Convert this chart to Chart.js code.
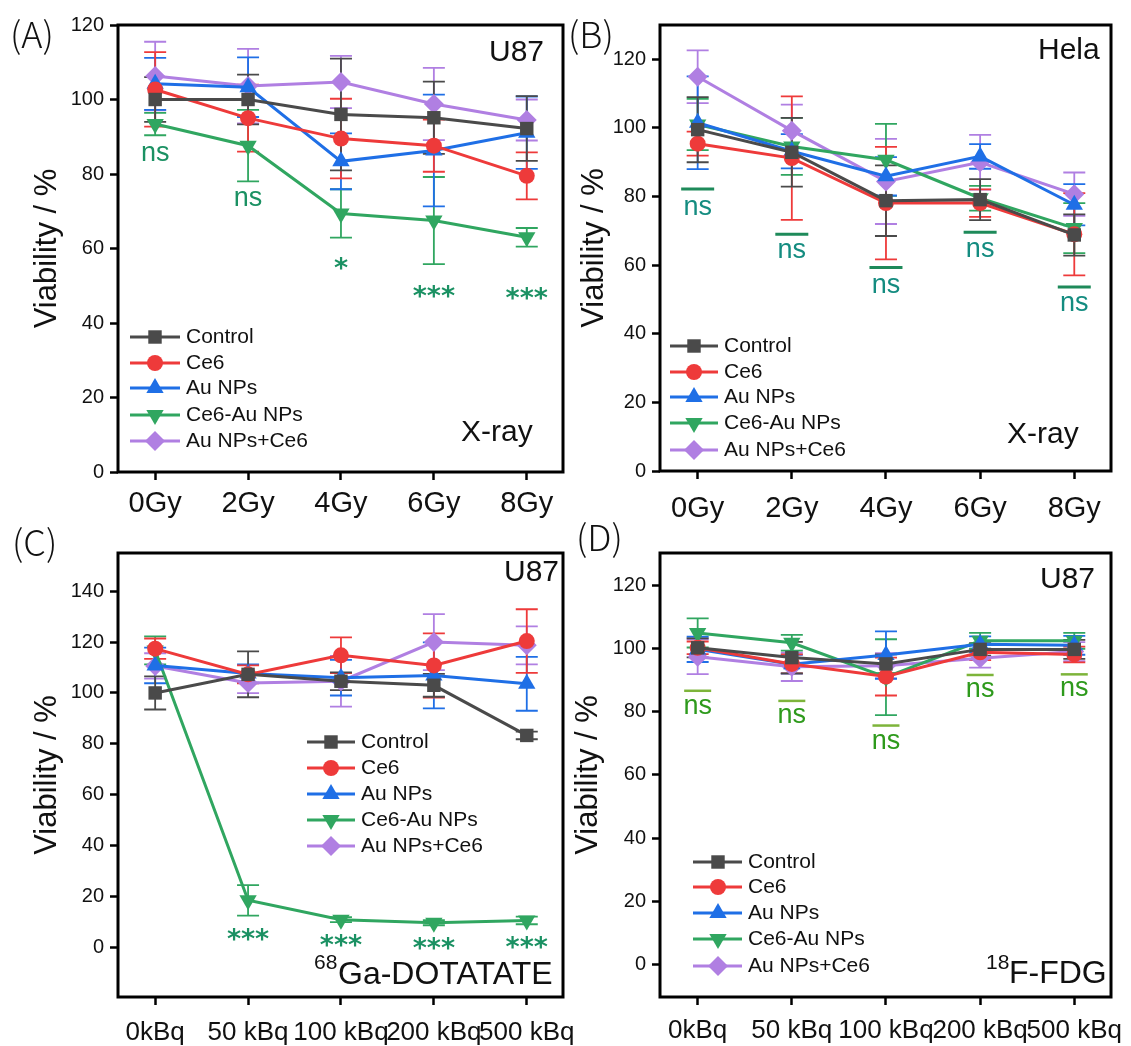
<!DOCTYPE html>
<html>
<head>
<meta charset="utf-8">
<script src="https://cdn.jsdelivr.net/npm/chart.js@4.4.1/dist/chart.umd.min.js"></script>
<style>
html,body{margin:0;padding:0;background:#fff;}
#wrap{position:relative;width:1131px;height:1046px;overflow:hidden;background:#fff;}
#wrap canvas{position:absolute;left:0;top:0;}
</style>
</head>
<body>
<div id="wrap">
<canvas id="cA" width="1131" height="1046"></canvas>
<canvas id="cB" width="1131" height="1046"></canvas>
<canvas id="cC" width="1131" height="1046"></canvas>
<canvas id="cD" width="1131" height="1046"></canvas>
</div>
<script>
// ---------- categories / labels ----------
const seriesNames = ['Control', 'Ce6', 'Au NPs', 'Ce6-Au NPs', 'Au NPs+Ce6'];
const gyLabels = ['0Gy', '2Gy', '4Gy', '6Gy', '8Gy'];
const kbqLabels = ['0kBq', '50 kBq', '100 kBq', '200 kBq', '500 kBq'];
const yTitle = 'Viability / %';

// ---------- Panel A (U87, X-ray) ----------
const aControl = [100, 100, 96.0, 95.1, 92.2];
const aControlErr = [6, 6.7, 15, 9.7, 8.7];
const aCe6 = [102.7, 95, 89.5, 87.6, 79.5];
const aCe6Err = [10, 9, 10.7, 7, 6.3];
const aAu = [104.2, 103.3, 83.4, 86.3, 91.1];
const aAuErr = [7, 8, 7.5, 15, 9.7];
const aCe6Au = [93.4, 87.6, 69.4, 67.5, 63];
const aCe6AuErr = [3, 9.6, 6.5, 11.7, 2.5];
const aMix = [106.3, 103.6, 104.7, 98.8, 94.5];
const aMixErr = [9.2, 10, 7, 9.7, 5.5];
const aSigText = ['ns', 'ns', '*', '***', '***'];
const aSigY = [85.4, 73.3, 56.5, 48.9, 48.4];

// ---------- Panel B (Hela, X-ray) ----------
const bControl = [99.5, 92.9, 78.8, 79.1, 68.8];
const bControlErr = [9.5, 10, 10.3, 6, 6];
const bCe6 = [95.4, 91.2, 78.1, 78.1, 69];
const bCe6Err = [3.5, 18, 16.4, 4, 12];
const bAu = [101.5, 93.2, 85.9, 91.7, 77.6];
const bAuErr = [13.5, 5, 5.6, 3.6, 6];
const bCe6Au = [101, 94.6, 90.7, 79.5, 70.8];
const bCe6AuErr = [7.5, 8.3, 10.5, 3.6, 7.3];
const bMix = [114.9, 99.2, 84.4, 90, 80.7];
const bMixErr = [7.7, 7.6, 12.4, 8, 6.3];
const bSigText = ['ns', 'ns', 'ns', 'ns', 'ns'];
const bSigY = [76.6, 64, 53.9, 64.5, 48.7];
const bSigBarY = [82.2, 69, 59.3, 69.6, 53.6];

// ---------- Panel C (U87, 68Ga-DOTATATE) ----------
const cControl = [100, 107.3, 104.6, 103, 83.3];
const cControlErr = [6.5, 9, 3.5, 4.5, 1.5];
const cCe6 = [117.4, 107.3, 114.8, 110.8, 120.4];
const cCe6Err = [4, 3.5, 7, 12.6, 12.5];
const cAu = [110.8, 107.6, 106, 106.9, 103.6];
const cAuErr = [7, 3.6, 7, 13, 10.6];
const cCe6Au = [116.7, 18.5, 10.9, 9.7, 10.6];
const cCe6AuErr = [5.5, 6, 1, 1, 1.5];
const cMix = [110.6, 103.9, 104.6, 120, 118.7];
const cMixErr = [5, 4, 10, 11, 7.5];
const cSigText = ['', '***', '***', '***', '***'];
const cSigY = [0, 5.8, 3.4, 2.1, 2.5];

// ---------- Panel D (U87, 18F-FDG) ----------
const dControl = [100.2, 97.1, 95.1, 99.7, 99.7];
const dControlErr = [3, 5, 3, 2, 3];
const dCe6 = [100.2, 95.1, 91.1, 98.8, 98.1];
const dCe6Err = [2, 3, 6, 2.5, 2.5];
const dAu = [99.7, 95, 97.9, 101.3, 101];
const dAuErr = [4, 3, 7.5, 2.5, 3];
const dCe6Au = [104.9, 101.8, 90.9, 102.4, 102.4];
const dCe6AuErr = [4.6, 2.5, 12, 2.5, 2.5];
const dMix = [97.4, 94.2, 94.5, 96.9, 99];
const dMixErr = [5.5, 4.5, 4, 3, 3];
const dSigText = ['ns', 'ns', 'ns', 'ns', 'ns'];
const dSigY = [81.6, 78.5, 70.5, 86.9, 87.2];
const dSigBarY = [86.6, 83.4, 75.6, 91.6, 91.8];

// ---------- styles ----------
const COLORS = ['#4a4a4a', '#ee3a3a', '#1f6fe6', '#30a660', '#b07fe2'];
const MARK = [
  {s: 'rect', r: 9.5, rot: 0},
  {s: 'circle', r: 8, rot: 0},
  {s: 'triangle', r: 10, rot: 0},
  {s: 'triangle', r: 10, rot: 180},
  {s: 'rectRot', r: 10, rot: 0}
];
const FONT = "'Liberation Sans', Arial, sans-serif";
const W = 1131, Hh = 1046, XH = 60;

function mkDs(k, vals, errs) {
  return {
    label: seriesNames[k],
    data: vals.map((v, i) => ({x: i, y: v})),
    errors: errs,
    borderColor: COLORS[k], backgroundColor: COLORS[k],
    pointBackgroundColor: COLORS[k], pointBorderColor: COLORS[k],
    pointBorderWidth: 0, pointStyle: MARK[k].s, pointRadius: MARK[k].r,
    pointRotation: MARK[k].rot, borderWidth: 3, tension: 0, fill: false
  };
}

const panelPlugin = {
  id: 'panel',
  beforeDatasetsDraw(chart) {
    const ctx = chart.ctx, ys = chart.scales.y;
    for (let i = chart.data.datasets.length - 1; i >= 0; i--) {
      const ds = chart.data.datasets[i];
      const meta = chart.getDatasetMeta(i);
      ctx.save();
      ctx.strokeStyle = ds.borderColor; ctx.lineWidth = 1.8;
      meta.data.forEach((pt, j) => {
        const v = ds.data[j].y, e = ds.errors[j];
        const yU = ys.getPixelForValue(v + e), yL = ys.getPixelForValue(v - e);
        ctx.beginPath();
        ctx.moveTo(pt.x, yU); ctx.lineTo(pt.x, yL);
        ctx.moveTo(pt.x - 11, yU); ctx.lineTo(pt.x + 11, yU);
        ctx.moveTo(pt.x - 11, yL); ctx.lineTo(pt.x + 11, yL);
        ctx.stroke();
      });
      ctx.restore();
    }
  },
  afterDraw(chart, args, o) {
    const ctx = chart.ctx, a = chart.chartArea;
    const xs = chart.scales.x, ys = chart.scales.y;
    ctx.save();
    ctx.strokeStyle = '#000'; ctx.lineWidth = 3;
    ctx.strokeRect(a.left, a.top, a.right - a.left, a.bottom - a.top);
    // texts
    o.texts.forEach(t => {
      ctx.font = t.font; ctx.fillStyle = '#111';
      ctx.textAlign = 'left'; ctx.textBaseline = 'middle';
      ctx.fillText(t.text, t.x, t.y);
    });
    // legend
    const L = o.legend;
    chart.data.datasets.forEach((ds, i) => {
      const y = L.ys[i];
      ctx.strokeStyle = ds.borderColor; ctx.lineWidth = 3;
      ctx.beginPath(); ctx.moveTo(L.x0, y); ctx.lineTo(L.x1, y); ctx.stroke();
      ctx.fillStyle = ds.pointBackgroundColor;
      Chart.helpers.drawPoint(ctx, {pointStyle: ds.pointStyle, radius: ds.pointRadius,
        rotation: ds.pointRotation, borderWidth: 0}, L.mx, y);
      ctx.fillStyle = '#111'; ctx.font = '21px ' + FONT;
      ctx.textAlign = 'left'; ctx.textBaseline = 'middle';
      ctx.fillText(ds.label, L.tx, y);
    });
    // significance
    const S = o.sig;
    S.text.forEach((s, j) => {
      const x = xs.getPixelForValue(j);
      if (S.bars) {
        const yb = ys.getPixelForValue(S.bars[j]);
        ctx.strokeStyle = S.barColor; ctx.lineWidth = S.barLW;
        ctx.beginPath(); ctx.moveTo(x - S.barW / 2, yb); ctx.lineTo(x + S.barW / 2, yb); ctx.stroke();
      }
      if (!s) return;
      const y = ys.getPixelForValue(S.ys[j]);
      ctx.fillStyle = S.color; ctx.textAlign = 'center'; ctx.textBaseline = 'alphabetic';
      if (s.indexOf('*') >= 0) {
        ctx.font = "bold 27px 'DejaVu Sans', sans-serif";
        ctx.fillText(s, x, y + 15);
      } else {
        ctx.font = '27px ' + FONT;
        ctx.fillText(s, x, y + 7);
      }
    });
    ctx.restore();
  }
};

function makePanel(id, P) {
  const tickGrid = {display: true, drawOnChartArea: false, drawTicks: true, tickLength: 8, tickWidth: 2.5, tickColor: '#000'};
  new Chart(document.getElementById(id), {
    type: 'line',
    data: {datasets: P.ds},
    plugins: [panelPlugin],
    options: {
      responsive: false, animation: false, events: [],
      layout: {padding: {left: P.yLeft, top: P.t, right: W - P.r, bottom: Hh - P.b - XH}},
      plugins: {legend: {display: false}, tooltip: {enabled: false},
        panel: {texts: P.texts, legend: P.legend, sig: P.sig}},
      scales: {
        x: {
          type: 'linear', min: -0.4, max: 4.39,
          afterFit(s) { s.height = XH; s.paddingLeft = 0; s.paddingRight = 0; },
          grid: tickGrid, border: {display: false},
          ticks: {stepSize: 1, includeBounds: false, autoSkip: false, maxRotation: 0, minRotation: 0,
            padding: P.xPad, color: '#111', font: {family: FONT, size: P.xFont},
            callback: v => P.xLabels[Math.round(v)]}
        },
        y: {
          type: 'linear', min: P.yMin, max: P.yMax,
          afterFit(s) { s.width = P.l - P.yLeft; s.paddingTop = 0; s.paddingBottom = 0; },
          grid: tickGrid, border: {display: false},
          ticks: {stepSize: 20, includeBounds: false, padding: 6, color: '#111', font: {family: FONT, size: 20}},
          title: {display: true, text: yTitle, color: '#111', font: {family: FONT, size: 31}, padding: {top: 4, bottom: 4}}
        }
      }
    }
  });
}

const letterFont = "300 36px 'Noto Sans CJK SC', 'Liberation Sans', sans-serif";
const labFont = '30px ' + FONT;

makePanel('cA', {
  l: 118, t: 25, r: 563, b: 472, yLeft: 25, yMin: 0, yMax: 120,
  xLabels: gyLabels, xFont: 29, xPad: 7,
  ds: [mkDs(0, aControl, aControlErr), mkDs(1, aCe6, aCe6Err), mkDs(2, aAu, aAuErr), mkDs(3, aCe6Au, aCe6AuErr), mkDs(4, aMix, aMixErr)],
  texts: [{text: '(A)', x: 10, y: 34, font: letterFont}, {text: 'U87', x: 489, y: 53, font: labFont}, {text: 'X-ray', x: 461, y: 433, font: labFont}],
  legend: {x0: 130, x1: 180, mx: 155, tx: 186, ys: [337, 363, 388, 415, 441]},
  sig: {text: aSigText, ys: aSigY, color: '#1b9163'}
});

makePanel('cB', {
  l: 660, t: 25, r: 1111, b: 471, yLeft: 572, yMin: 0, yMax: 130,
  xLabels: gyLabels, xFont: 29, xPad: 13,
  ds: [mkDs(0, bControl, bControlErr), mkDs(1, bCe6, bCe6Err), mkDs(2, bAu, bAuErr), mkDs(3, bCe6Au, bCe6AuErr), mkDs(4, bMix, bMixErr)],
  texts: [{text: '(B)', x: 568, y: 34, font: letterFont}, {text: 'Hela', x: 1038, y: 51, font: labFont}, {text: 'X-ray', x: 1007, y: 435, font: labFont}],
  legend: {x0: 670, x1: 718, mx: 694, tx: 724, ys: [346, 372, 397, 423, 450]},
  sig: {text: bSigText, ys: bSigY, color: '#148c80', bars: bSigBarY, barColor: '#1e8a5a', barW: 33, barLW: 3}
});

makePanel('cC', {
  l: 118, t: 553, r: 563, b: 997, yLeft: 25, yMin: -19.5, yMax: 155,
  xLabels: kbqLabels, xFont: 26, xPad: 12,
  ds: [mkDs(0, cControl, cControlErr), mkDs(1, cCe6, cCe6Err), mkDs(2, cAu, cAuErr), mkDs(3, cCe6Au, cCe6AuErr), mkDs(4, cMix, cMixErr)],
  texts: [{text: '(C)', x: 12, y: 542, font: letterFont}, {text: 'U87', x: 504, y: 573, font: labFont},
          {text: '68', x: 314, y: 963, font: '21px ' + FONT}, {text: 'Ga-DOTATATE', x: 338, y: 975, font: '32px ' + FONT}],
  legend: {x0: 307, x1: 355, mx: 331, tx: 361, ys: [742, 768, 794, 820, 846]},
  sig: {text: cSigText, ys: cSigY, color: '#1b9163'}
});

makePanel('cD', {
  l: 660, t: 553, r: 1111, b: 997, yLeft: 566, yMin: -10.3, yMax: 130.2,
  xLabels: kbqLabels, xFont: 26, xPad: 10,
  ds: [mkDs(0, dControl, dControlErr), mkDs(1, dCe6, dCe6Err), mkDs(2, dAu, dAuErr), mkDs(3, dCe6Au, dCe6AuErr), mkDs(4, dMix, dMixErr)],
  texts: [{text: '(D)', x: 576, y: 537, font: letterFont}, {text: 'U87', x: 1040, y: 580, font: labFont},
          {text: '18', x: 986, y: 963, font: '21px ' + FONT}, {text: 'F-FDG', x: 1009, y: 974, font: '32px ' + FONT}],
  legend: {x0: 693, x1: 742, mx: 718, tx: 748, ys: [862, 887, 913, 939, 966]},
  sig: {text: dSigText, ys: dSigY, color: '#2e9a1c', bars: dSigBarY, barColor: '#7db43a', barW: 27, barLW: 2.5}
});
</script>
</body>
</html>
